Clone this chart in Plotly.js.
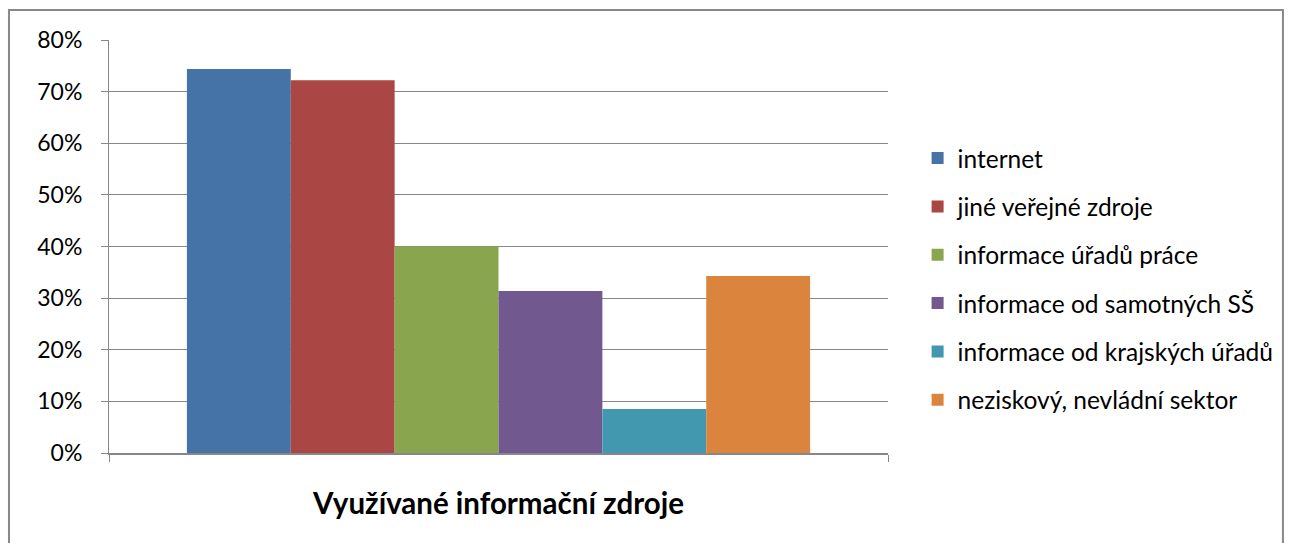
<!DOCTYPE html>
<html>
<head>
<meta charset="utf-8">
<script src="https://cdn.plot.ly/plotly-3.0.1.min.js"></script>
<style>
  html, body { margin: 0; padding: 0; background: #ffffff; }
  #chart { width: 1291px; height: 543px; }
</style>
</head>
<body>
<div id="chart"></div>
<script>
// Data
var category = ['Využívané informační zdroje'];
var seriesNames = [
  'internet',
  'jiné veřejné zdroje',
  'informace úřadů práce',
  'informace od samotných SŠ',
  'informace od krajských úřadů',
  'neziskový, nevládní sektor'
];
var seriesValues = [0.744, 0.722, 0.400, 0.314, 0.085, 0.343];
var seriesColors = ['#4572A7', '#AA4643', '#89A54E', '#71588F', '#4198AF', '#DB843D'];
var yTickVals = [0, 0.1, 0.2, 0.3, 0.4, 0.5, 0.6, 0.7, 0.8];
var yTickText = ['0%', '10%', '20%', '30%', '40%', '50%', '60%', '70%', '80%'];

var FONT = 'Lato, "Open Sans", sans-serif';
var GRID = '#878787';

var traces = seriesNames.map(function (name, i) {
  return {
    type: 'bar',
    name: name,
    x: category,
    y: [seriesValues[i]],
    marker: { color: seriesColors[i], line: { width: 0 } },
    legendgroup: 'g' + i,
    hoverinfo: 'name+y'
  };
});

var layout = {
  width: 1291,
  height: 543,
  paper_bgcolor: '#ffffff',
  plot_bgcolor: '#ffffff',
  margin: { l: 109, r: 403, t: 40, b: 90, pad: 0 },
  barmode: 'group',
  bargap: 0.2,
  bargroupgap: 0,
  font: { family: FONT, color: '#000000', size: 20 },
  showlegend: true,
  legend: {
    x: 1.038, xanchor: 'left', xref: 'paper',
    y: 0.421, yanchor: 'middle',
    traceorder: 'grouped',
    tracegroupgap: 13.5,
    font: { family: FONT, size: 24.5, color: '#000000' },
    bgcolor: 'rgba(0,0,0,0)',
    borderwidth: 0
  },
  xaxis: {
    type: 'category',
    showticklabels: false,
    tickson: 'boundaries',
    ticks: 'outside',
    ticklen: 7,
    tickcolor: GRID,
    tickwidth: 1,
    showline: true,
    linecolor: GRID,
    linewidth: 2,
    showgrid: false,
    zeroline: false,
    title: {
      text: '<b>Využívané informační zdroje</b>',
      font: { family: FONT, size: 29.5, color: '#000000' },
      standoff: 39
    }
  },
  yaxis: {
    range: [0, 0.8],
    tickvals: yTickVals,
    ticktext: yTickText,
    ticks: 'outside',
    ticklen: 7,
    tickcolor: GRID,
    tickwidth: 1,
    showline: true,
    linecolor: GRID,
    linewidth: 1,
    showgrid: true,
    gridcolor: GRID,
    gridwidth: 1,
    zeroline: false,
    ticklabelstandoff: 14,
    tickfont: { family: FONT, size: 23, color: '#000000' }
  },
  shapes: [{
    type: 'rect', xref: 'paper', yref: 'paper',
    x0: -0.1284, x1: 1.507, y0: -0.4, y1: 1.0726,
    line: { color: '#898989', width: 2 },
    fillcolor: 'rgba(0,0,0,0)',
    layer: 'above'
  }]
};

Plotly.newPlot('chart', traces, layout, { displayModeBar: false, staticPlot: true });
</script>
</body>
</html>
